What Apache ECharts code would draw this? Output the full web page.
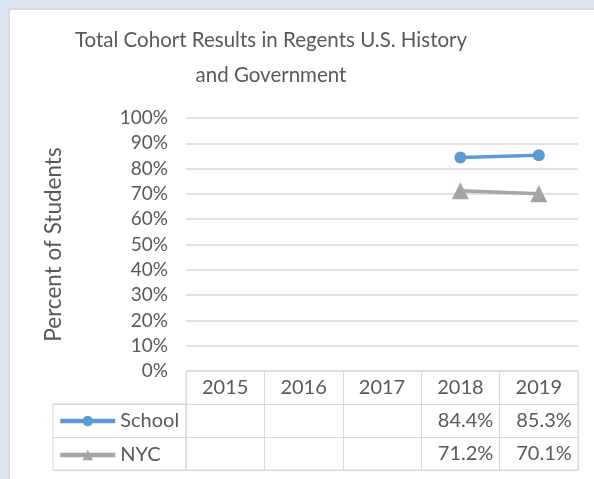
<!DOCTYPE html>
<html>
<head>
<meta charset="utf-8">
<script src="https://cdn.jsdelivr.net/npm/echarts@6.0.0/dist/echarts.min.js"></script>
<style>
  html, body { margin: 0; padding: 0; background: #dbe5f1; overflow: hidden; }
  #frame { position: absolute; left: 8px; top: 8px; width: 620px; height: 500px; background: #fff; border: 2px solid #d9d9d9; }
  #main { position: absolute; left: 0; top: 0; width: 594px; height: 479px; }
</style>
</head>
<body>
<div id="frame"></div>
<div id="main"></div>
<script>
// chart data
const years = ['2015', '2016', '2017', '2018', '2019'];
const schoolValues = [null, null, null, 84.4, 85.3];
const nycValues = [null, null, null, 71.2, 70.1];
const seriesNames = ['School', 'NYC'];
const yMin = 0, yMax = 100, yStep = 10;

const textColor = '#595959';
const lineColor = '#d9d9d9';
const font = 'Lato';

// cells of the data table under the axis
function cells(values, row) {
  let out = [];
  values.forEach((v, i) => {
    if (v != null) out.push([years[i], row, v]);
  });
  return out;
}
let tableCells = cells(schoolValues, seriesNames[0]).concat(cells(nycValues, seriesNames[1]));

// one legend per table row, so each sits in its own cell
function legendRow(name, top) {
  return {
    data: [name],
    left: 53,
    top: top,
    itemWidth: 55,
    itemHeight: 13,
    lineStyle: { width: 4.5 },
    textStyle: { fontFamily: font, fontSize: 20, color: textColor }
  };
}

let options = {
  animation: false,
  textStyle: { fontFamily: font },
  title: {
    text: 'Total Cohort Results in Regents U.S. History\nand Government',
    left: 266,
    top: 18,
    textAlign: 'center',
    textStyle: { fontFamily: font, fontSize: 20.5, fontWeight: 'normal', color: textColor, lineHeight: 35 }
  },
  legend: [legendRow(seriesNames[0], 406), legendRow(seriesNames[1], 440)],
  grid: [
    { left: 186, right: 16, top: 118, height: 253 },
    { left: 186, right: 16, top: 371, bottom: 9, show: true, borderColor: lineColor, borderWidth: 1 },
    { left: 53, width: 133, top: 404, bottom: 9, show: true, borderColor: lineColor, borderWidth: 1 }
  ],
  xAxis: [
    {
      type: 'category', gridIndex: 0, data: years, boundaryGap: true,
      axisLine: { show: false },
      axisTick: { show: false },
      axisLabel: { color: textColor, fontSize: 20, margin: 7, fontFamily: font },
      splitLine: { show: false }
    },
    {
      type: 'category', gridIndex: 1, data: years, boundaryGap: true,
      axisLine: { show: false }, axisTick: { show: false }, axisLabel: { show: false },
      splitLine: { show: true, lineStyle: { color: lineColor, width: 1 } }
    },
    {
      type: 'value', gridIndex: 2, min: 0, max: 1, show: false
    }
  ],
  yAxis: [
    {
      type: 'value', gridIndex: 0, min: yMin, max: yMax, interval: yStep,
      axisLine: { show: false }, axisTick: { show: false },
      axisLabel: { formatter: '{value}%', color: textColor, fontSize: 19, margin: 18, fontFamily: font },
      splitLine: { lineStyle: { color: lineColor, width: 1.5 } },
      name: 'Percent of Students',
      nameLocation: 'middle',
      nameGap: 121,
      nameTextStyle: { color: textColor, fontSize: 22.5, fontFamily: font }
    },
    {
      type: 'category', gridIndex: 1, inverse: true, data: ['header'].concat(seriesNames),
      axisLine: { show: false }, axisTick: { show: false }, axisLabel: { show: false },
      splitLine: { show: true, lineStyle: { color: lineColor, width: 1 } }
    },
    {
      type: 'category', gridIndex: 2, inverse: true, data: seriesNames,
      axisLine: { show: false }, axisTick: { show: false }, axisLabel: { show: false },
      splitLine: { show: true, lineStyle: { color: lineColor, width: 1 } }
    }
  ],
  series: [
    {
      name: seriesNames[0], type: 'line', data: schoolValues,
      xAxisIndex: 0, yAxisIndex: 0,
      color: '#5b9bd5',
      symbol: 'circle', symbolSize: 12,
      lineStyle: { width: 3.5 },
      connectNulls: false
    },
    {
      name: seriesNames[1], type: 'line', data: nycValues,
      xAxisIndex: 0, yAxisIndex: 0,
      color: '#a5a5a5',
      symbol: 'triangle', symbolSize: 17,
      lineStyle: { width: 3.5 },
      connectNulls: false
    },
    {
      type: 'scatter', xAxisIndex: 1, yAxisIndex: 1,
      data: tableCells,
      symbol: 'rect', symbolSize: [70, 28],
      itemStyle: { color: 'rgba(0,0,0,0)', opacity: 1 },
      silent: true,
      label: {
        show: true, position: 'insideRight', distance: 2,
        color: textColor, fontSize: 20, fontFamily: font, opacity: 1,
        formatter: p => p.value[2].toFixed(1) + '%'
      }
    }
  ]
};

let myChart = echarts.init(document.getElementById('main'));
myChart.setOption(options);
</script>
</body>
</html>
